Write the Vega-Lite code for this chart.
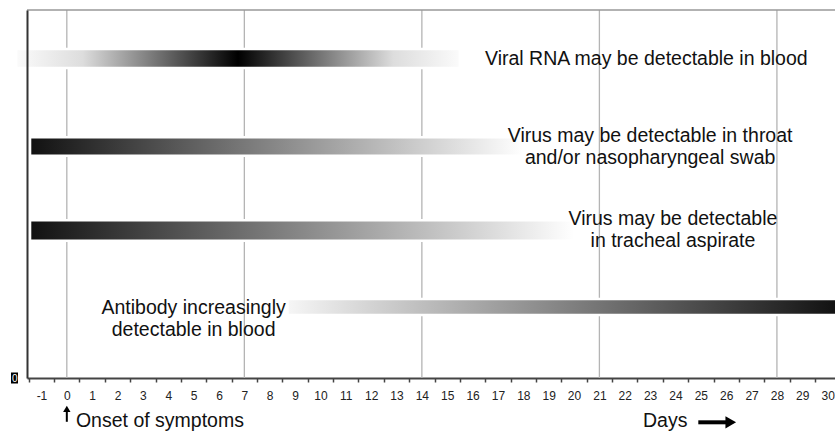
{
  "$schema": "https://vega.github.io/schema/vega-lite/v6.json",
  "width": 808,
  "height": 368,
  "autosize": {"type": "none"},
  "padding": {"left": 27, "top": 10, "right": 0, "bottom": 54},
  "background": "white",
  "config": {
    "view": {"stroke": null},
    "font": "Liberation Sans",
    "scale": {"continuousPadding": 0},
    "axisX": {
      "title": null, "grid": false,
      "domainColor": "#444", "domainWidth": 2,
      "tickColor": "#444", "tickSize": 4, "tickWidth": 1.5,
      "tickOffset": -12.68, "labelOffset": 12.68,
      "labelFont": "Liberation Sans", "labelFontSize": 12, "labelColor": "#222",
      "labelPadding": 8, "labelOverlap": false, "labelFlush": false, "labelBound": false
    }
  },
  "datasets": {
    "grid": [{"day": 0}, {"day": 7}, {"day": 14}, {"day": 21}, {"day": 28}],
    "bars": [
      {"id": "rna", "start": -2, "end": 15.5, "lane": 86.8},
      {"id": "throat", "start": -1.45, "end": 18, "lane": 62.9},
      {"id": "trachea", "start": -1.45, "end": 20, "lane": 40.1},
      {"id": "antibody", "start": 8.7, "end": 30.4, "lane": 19.3}
    ],
    "labels1": [
      {"text": "Viral RNA may be detectable in blood", "day": 22.85, "lane": 86.8}
    ],
    "labels2": [
      {"text": "Virus may be detectable in throat\nand/or nasopharyngeal swab", "day": 23.0, "lane": 62.9},
      {"text": "Virus may be detectable\nin tracheal aspirate", "day": 23.9, "lane": 40.1},
      {"text": "Antibody increasingly\ndetectable in blood", "day": 5.0, "lane": 15.95}
    ],
    "notes": [
      {"text": "Onset of symptoms", "day": 0.36, "lane": -13.4},
      {"text": "Days", "day": 22.72, "lane": -13.4}
    ],
    "one": [{}]
  },
  "layer": [
    {
      "data": {"name": "grid"},
      "mark": {"type": "rule", "color": "#b4b4b4", "strokeWidth": 1.3},
      "encoding": {
        "x": {"field": "day", "type": "quantitative",
          "scale": {"domain": [-1.57, 30.29], "nice": false, "zero": false, "padding": 0},
          "axis": {
            "tickCount": 40, "tickMinStep": 1,
            "labelExpr": "datum.value + ''",
            "labelOverlap": false
          }
        },
        "y": {"datum": 0, "type": "quantitative",
          "scale": {"domain": [0, 100], "nice": false, "zero": false, "padding": 0},
          "axis": {
            "values": [0], "title": null, "grid": false, "ticks": false,
            "domainColor": "#333", "domainWidth": 2,
            "labelColor": "white", "labelFontSize": 10, "labelPadding": 10,
            "labelFont": "Liberation Sans", "zindex": 1
          }
        },
        "y2": {"datum": 100}
      }
    },
    {
      "data": {"name": "one"},
      "mark": {"type": "rule", "color": "#999", "strokeWidth": 1.5},
      "encoding": {"y": {"datum": 100, "type": "quantitative"}}
    },
    {
      "data": {"name": "one"},
      "mark": {"type": "point", "shape": "M-0.64,-1H0.64V1H-0.64Z", "size": 121, "filled": true, "color": "black", "opacity": 1, "xOffset": -12.5, "clip": false},
      "encoding": {"x": {"datum": -1.57, "type": "quantitative"}, "y": {"datum": 0, "type": "quantitative"}}
    },
    {
      "data": {"name": "bars"},
      "transform": [{"filter": "datum.id === 'rna'"}],
      "mark": {"type": "bar", "height": 19, "stroke": "white", "strokeWidth": 2.5, "clip": false,
        "fill": {"gradient": "linear", "x1": 0, "y1": 0, "x2": 1, "y2": 0,
          "stops": [{"offset": 0, "color": "#fbfbfb"}, {"offset": 0.15, "color": "#dddddd"}, {"offset": 0.5, "color": "#000000"}, {"offset": 0.85, "color": "#dddddd"}, {"offset": 1, "color": "#fbfbfb"}]}},
      "encoding": {"x": {"field": "start", "type": "quantitative"}, "x2": {"field": "end"}, "y": {"field": "lane", "type": "quantitative"}}
    },
    {
      "data": {"name": "bars"},
      "transform": [{"filter": "datum.id === 'throat'"}],
      "mark": {"type": "bar", "height": 18.5, "stroke": "white", "strokeWidth": 2.5,
        "fill": {"gradient": "linear", "x1": 0, "y1": 0, "x2": 1, "y2": 0,
          "stops": [{"offset": 0, "color": "#111111"}, {"offset": 1, "color": "#ffffff"}]}},
      "encoding": {"x": {"field": "start", "type": "quantitative"}, "x2": {"field": "end"}, "y": {"field": "lane", "type": "quantitative"}}
    },
    {
      "data": {"name": "bars"},
      "transform": [{"filter": "datum.id === 'trachea'"}],
      "mark": {"type": "bar", "height": 20.5, "stroke": "white", "strokeWidth": 2.5,
        "fill": {"gradient": "linear", "x1": 0, "y1": 0, "x2": 1, "y2": 0,
          "stops": [{"offset": 0, "color": "#111111"}, {"offset": 1, "color": "#ffffff"}]}},
      "encoding": {"x": {"field": "start", "type": "quantitative"}, "x2": {"field": "end"}, "y": {"field": "lane", "type": "quantitative"}}
    },
    {
      "data": {"name": "bars"},
      "transform": [{"filter": "datum.id === 'antibody'"}],
      "mark": {"type": "bar", "height": 16, "stroke": "white", "strokeWidth": 2.5,
        "fill": {"gradient": "linear", "x1": 0, "y1": 0, "x2": 1, "y2": 0,
          "stops": [{"offset": 0, "color": "#f6f6f6"}, {"offset": 1, "color": "#111111"}]}},
      "encoding": {"x": {"field": "start", "type": "quantitative"}, "x2": {"field": "end"}, "y": {"field": "lane", "type": "quantitative"}}
    },
    {
      "data": {"name": "labels1"},
      "mark": {"type": "text", "font": "Liberation Sans", "fontSize": 19.5, "color": "#111", "align": "center", "baseline": "middle"},
      "encoding": {"x": {"field": "day", "type": "quantitative"}, "y": {"field": "lane", "type": "quantitative"}, "text": {"field": "text"}}
    },
    {
      "data": {"name": "labels2"},
      "mark": {"type": "text", "font": "Liberation Sans", "fontSize": 19.5, "color": "#111", "align": "center", "baseline": "middle", "lineBreak": "\n", "lineHeight": 22, "dy": -11},
      "encoding": {"x": {"field": "day", "type": "quantitative"}, "y": {"field": "lane", "type": "quantitative"}, "text": {"field": "text"}}
    },
    {
      "data": {"name": "notes"},
      "mark": {"type": "text", "font": "Liberation Sans", "fontSize": 19.5, "color": "#111", "align": "left", "baseline": "alphabetic", "clip": false},
      "encoding": {"x": {"field": "day", "type": "quantitative"}, "y": {"field": "lane", "type": "quantitative"}, "text": {"field": "text"}}
    },
    {
      "data": {"name": "one"},
      "mark": {"type": "rule", "color": "black", "strokeWidth": 2, "clip": false},
      "encoding": {"x": {"datum": 0, "type": "quantitative"}, "y": {"datum": -8.8, "type": "quantitative"}, "y2": {"datum": -11.9}}
    },
    {
      "data": {"name": "one"},
      "mark": {"type": "point", "shape": "triangle-up", "size": 55, "filled": true, "color": "black", "opacity": 1, "clip": false},
      "encoding": {"x": {"datum": 0, "type": "quantitative"}, "y": {"datum": -8.4, "type": "quantitative"}}
    },
    {
      "data": {"name": "one"},
      "mark": {"type": "rule", "color": "black", "strokeWidth": 4, "clip": false},
      "encoding": {"x": {"datum": 24.9, "type": "quantitative"}, "x2": {"datum": 26.0}, "y": {"datum": -12.04, "type": "quantitative"}}
    },
    {
      "data": {"name": "one"},
      "mark": {"type": "point", "shape": "triangle-right", "size": 150, "filled": true, "color": "black", "opacity": 1, "clip": false},
      "encoding": {"x": {"datum": 26.18, "type": "quantitative"}, "y": {"datum": -12.04, "type": "quantitative"}}
    }
  ]
}
